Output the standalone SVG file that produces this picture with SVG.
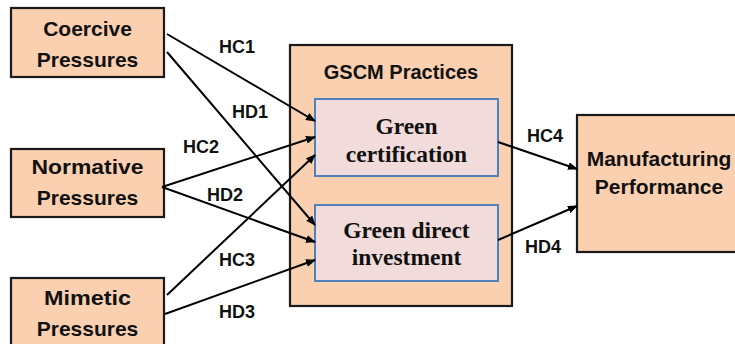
<svg xmlns="http://www.w3.org/2000/svg" width="735" height="344" viewBox="0 0 735 344">
<style>
.node{fill:#FAD0B0;stroke:#1a1a1a;stroke-width:2.2}
.inner{fill:#F2DCDB;stroke:#4F81BD;stroke-width:2}
.t{font-family:"Liberation Sans",Arial,sans-serif;font-weight:bold;font-size:21px;fill:#111;text-anchor:middle}
.s{font-family:"Liberation Serif","Times New Roman",serif;font-weight:bold;font-size:23.5px;fill:#111;text-anchor:middle}
.lbl{font-family:"Liberation Sans",Arial,sans-serif;font-weight:bold;font-size:18px;fill:#111;text-anchor:middle}
.c{fill:none;stroke:#000;stroke-width:2;marker-end:url(#ah)}
</style>
<defs>
<marker id="ah" viewBox="0 0 10 8" refX="9" refY="4" markerWidth="5" markerHeight="4" orient="auto" markerUnits="strokeWidth">
<path d="M0,0 L10,4 L0,8 z" fill="#000"/>
</marker>
</defs>
<rect width="735" height="344" fill="#fff"/>
<g id="coercive">
<rect class="node" x="11" y="8" width="153" height="69"/>
<text class="t" x="87.5" y="36">Coercive</text>
<text class="t" x="87.5" y="67">Pressures</text>
</g>
<g id="normative">
<rect class="node" x="11" y="149" width="153" height="68"/>
<text class="t" x="87.5" y="174" textLength="112" lengthAdjust="spacingAndGlyphs">Normative</text>
<text class="t" x="87.5" y="205">Pressures</text>
</g>
<g id="mimetic">
<rect class="node" x="11" y="278" width="153" height="72"/>
<text class="t" x="87.5" y="305" textLength="87" lengthAdjust="spacingAndGlyphs">Mimetic</text>
<text class="t" x="87.5" y="336">Pressures</text>
</g>
<g id="gscm">
<rect class="node" x="290" y="45" width="222" height="261"/>
<text class="t" x="401" y="79" style="font-size:20px">GSCM Practices</text>
</g>
<g id="green-certification">
<rect class="inner" x="315" y="99" width="183" height="77"/>
<text class="s" x="406.5" y="134">Green</text>
<text class="s" x="406.5" y="162">certification</text>
</g>
<g id="green-direct-investment">
<rect class="inner" x="315" y="205" width="183" height="76"/>
<text class="s" x="406.5" y="238">Green direct</text>
<text class="s" x="406.5" y="265">investment</text>
</g>
<g id="manufacturing-performance">
<rect class="node" x="577" y="115" width="170" height="137"/>
<text class="t" x="659" y="166">Manufacturing</text>
<text class="t" x="659" y="194">Performance</text>
</g>
<g id="connectors">
<line class="c" x1="167" y1="34" x2="315" y2="121"/>
<line class="c" x1="167" y1="52" x2="315" y2="225"/>
<line class="c" x1="162" y1="187" x2="315" y2="137"/>
<line class="c" x1="162" y1="187" x2="315" y2="242"/>
<line class="c" x1="167" y1="295" x2="315" y2="155"/>
<line class="c" x1="165" y1="314" x2="315" y2="260"/>
<line class="c" x1="498" y1="142" x2="577" y2="169"/>
<line class="c" x1="498" y1="240" x2="577" y2="206"/>
<text class="lbl" x="237" y="53">HC1</text>
<text class="lbl" x="250" y="118">HD1</text>
<text class="lbl" x="201" y="153">HC2</text>
<text class="lbl" x="225" y="201">HD2</text>
<text class="lbl" x="237" y="266">HC3</text>
<text class="lbl" x="237" y="318">HD3</text>
<text class="lbl" x="545" y="142">HC4</text>
<text class="lbl" x="543" y="253">HD4</text>
</g>
</svg>
